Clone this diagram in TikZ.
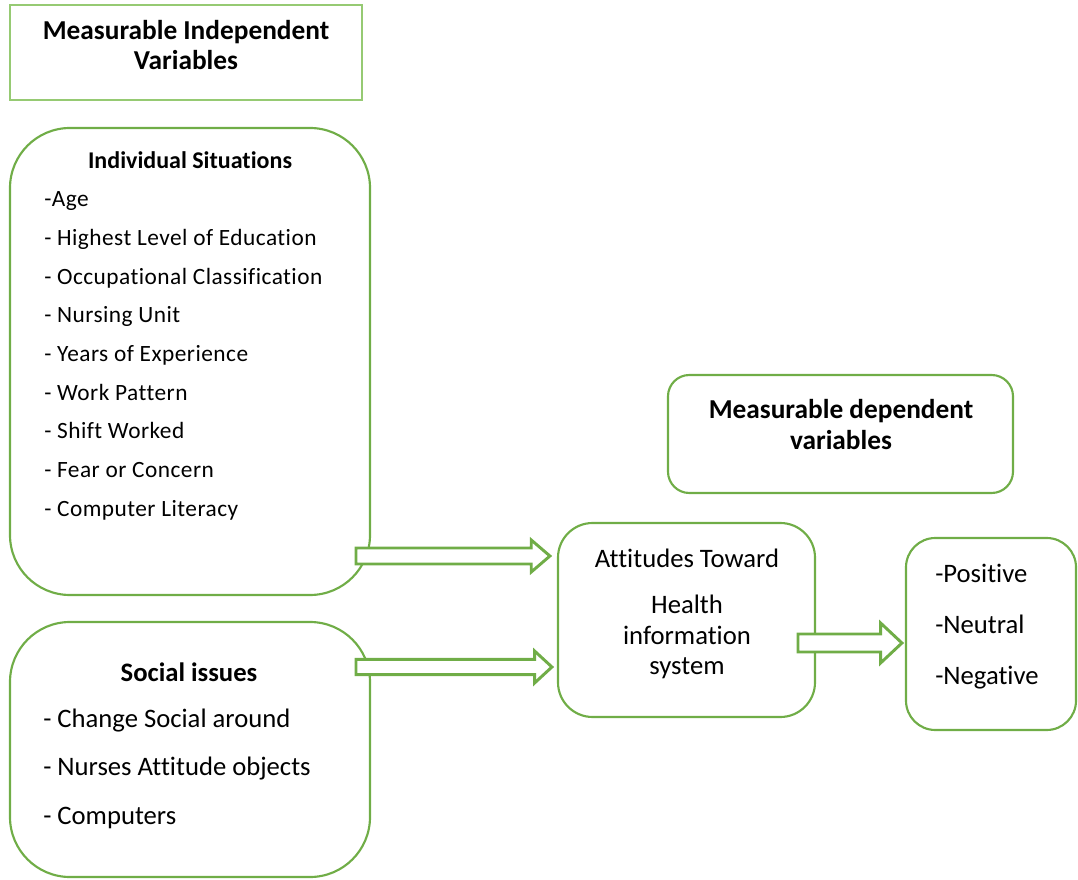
\documentclass[tikz,border=0pt]{standalone}
\usepackage{fontspec}
\setmainfont{Carlito}[Ligatures={NoCommon,NoContextual}, Contextuals=NoAlternate]
\newfontfamily\spacedfont{Carlito}[Ligatures={NoCommon,NoContextual}, Contextuals=NoAlternate, LetterSpace=2.0]
\usepackage{tikz}
\usetikzlibrary{calc}
\definecolor{framegreen}{RGB}{112,173,71}
\definecolor{palegreen}{RGB}{150,202,115}

% hollow block arrow: from, to, shaft half, head half, head length
\newcommand{\blockarrow}[5]{%
  \draw[blockarr] let \p1=(#1), \p2=(#2) in
    (\x1,\y1+#3) -- (\x2-#5,\y1+#3) -- (\x2-#5,\y1+#4) -- (\x2,\y1)
    -- (\x2-#5,\y1-#4) -- (\x2-#5,\y1-#3) -- (\x1,\y1-#3) -- cycle;}

\begin{document}
\begin{tikzpicture}[
    x=0.75pt, y=-0.75pt,
    box/.style={rectangle, draw=framegreen, line width=1.6pt, rounded corners=#1},
    box/.default=20pt,
    titlebox/.style={rectangle, draw=palegreen, line width=1.6pt},
    heading/.style={font=\fontsize{20.5}{23}\selectfont\bfseries, align=center, inner sep=0pt},
    plain/.style={font=\fontsize{20}{22.9}\selectfont, align=center, inner sep=0pt},
    itemlist/.style={align=left, anchor=west, inner sep=0pt},
    blockarr/.style={draw=framegreen, fill=white, line width=2.2pt}
]
    \useasboundingbox (0,0) rectangle (1078,880);

    % Independent variables
    \node[titlebox, minimum width=264pt, minimum height=71.25pt] (indep) at (186,52.5) {};
    \node[heading] (indeptext) at (186,45) {Measurable Independent\\Variables};

    % Individual situations
    \node[box=45pt, minimum width=270pt, minimum height=350.25pt] (indiv) at (190,361.5) {};
    \node[heading, font=\fontsize{18}{22}\selectfont\bfseries] (indivhead) at (190,160) {Individual Situations};
    \node[itemlist, font=\fontsize{17.5}{29}\spacedfont] (indivlist) at (44,356)
        {-Age\\- Highest Level of Education\\- Occupational Classification\\- Nursing Unit\\- Years of Experience\\- Work Pattern\\- Shift Worked\\- Fear or Concern\\- Computer Literacy};

    % Social issues
    \node[box=45pt, minimum width=270pt, minimum height=191.25pt] (social) at (190,749.5) {};
    \node[heading, font=\fontsize{20}{23}\selectfont\bfseries] (socialhead) at (189,672) {Social issues};
    \node[itemlist, font=\fontsize{20}{36.4}\selectfont] (sociallist) at (43,768.5)
        {- Change Social around\\- Nurses Attitude objects\\- Computers};

    % Dependent variables
    \node[box=16pt, minimum width=258.75pt, minimum height=88.5pt] (dep) at (840.5,434) {};
    \node[heading, font=\fontsize{20.5}{23.25}\selectfont\bfseries] (deptext) at (841,425) {Measurable dependent\\variables};

    % Attitudes
    \node[box=26pt, minimum width=192.75pt, minimum height=145.5pt] (att) at (686.5,620) {};
    \node[plain] (atttop) at (687,558) {Attitudes Toward};
    \node[plain] (attbody) at (687,637) {Health\\information\\system};

    % Outcomes
    \node[box=22pt, minimum width=127.5pt, minimum height=144pt] (outc) at (991,634) {};
    \node[itemlist, font=\fontsize{20}{38.25}\selectfont] (outclist) at (935,627)
        {-Positive\\-Neutral\\-Negative};

    \coordinate (a1) at (356,556);
    \coordinate (a2) at (356,667);
    \coordinate (a3) at (798,643);

    \blockarrow{a1}{$(att.west |- a1)+(-7,0)$}{6pt}{12pt}{14pt}
    \blockarrow{a2}{$(att.west |- a2)+(-5,0)$}{5.75pt}{12pt}{13pt}
    \blockarrow{a3}{$(outc.west |- a3)+(-3,0)$}{6.75pt}{15pt}{16pt}
\end{tikzpicture}
\end{document}
